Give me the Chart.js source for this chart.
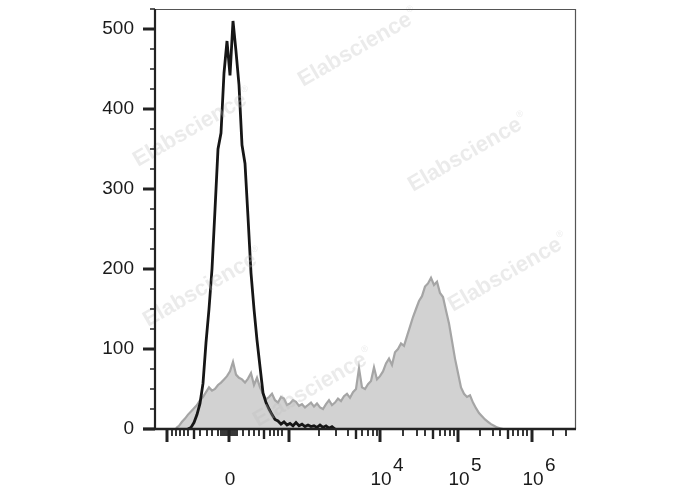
<!DOCTYPE html>
<html>
<head>
<meta charset="utf-8">
<script src="https://cdn.jsdelivr.net/npm/chart.js@4.4.1/dist/chart.umd.min.js"></script>
<style>
  html, body { margin: 0; padding: 0; background: #fff; }
  #wrap { width: 688px; height: 490px; }
</style>
</head>
<body>
<div id="wrap"><canvas id="chart" width="688" height="490"></canvas></div>
<script>
// display channels of the biexponential axis (0 = left edge of the plot)
const stainedChannels = [21,24,27,30,33,36,39,42,45,48,51,54,57,60,63,66,69,72,75,78,81,84,87,90,93,96,99,102,105,108,111,114,117,120,123,126,129,132,135,138,141,144,147,150,153,156,159,162,165,168,171,174,177,180,183,186,189,192,195,198,201,204,207,210,213,216,219,222,225,228,231,234,237,240,243,246,249,252,255,258,261,264,267,270,273,276,279,282,285,288,291,294,297,300,303,306,309,312,315,318,321,324,327,330,333,336,339,342,345,348]
const stainedCounts = [1,4,9,13,18,22,26,30,36,40,
  46,52,48,50,55,58,62,66,72,84,
  68,64,62,58,63,70,55,64,52,44,
  37,40,44,36,33,40,38,30,32,36,
  34,29,31,27,30,33,28,32,27,25,
  31,36,30,33,38,35,41,44,39,46,
  50,76,52,50,56,60,77,62,66,72,
  82,88,80,96,100,107,104,116,128,140,
  150,160,166,178,182,189,180,184,170,165,
  148,132,110,88,70,52,44,40,42,33,
  26,20,16,12,9,6,4,2,1,0]

const controlChannels = [33,36,39,42,45,48,51,54,57,60,63,66,69,72,75,78,81,84,87,90,93,96,99,102,105,108,111,114,117,120,123,126,129,132,135,138,141,144,147,150,153,156,159,162,165,168,171,174,177,180]
const controlCounts = [0,2,8,18,32,57,108,150,200,274,
  350,370,445,485,442,510,472,430,355,332,
  265,195,150,111,78,45,33,25,18,12,
  10,6,9,5,7,4,8,4,6,3,
  5,3,4,2,5,2,4,1,3,0]

// x axis ticks (channel positions)
const xMajorTicks = [12, 74, 134, 225, 303, 377]
const xMajorLabels = ['', '0', '', '10|4', '10|5', '10|6']
const xMidTicks = [39, 109, 201, 278, 353]
const xMinorTicks = [17,21,25,29,33,45,52,57,63,66,68,70,72,76,78,80,82,88,94,99,104,115,119,123,127,
  164,181,193,207,213,218,222,248,262,270,285,290,295,299,325,338,345,358,363,368,372,398,411]

const yMax = 525
const yMajorStep = 100
const yMinorStep = 25

const watermarks = [[355, 50], [465, 155], [190, 130], [200, 290], [505, 275], [310, 390]]

const toPoints = (xs, ys) => xs.map((x, i) => ({ x: x, y: ys[i] }))

const frame = {
  id: 'frame',
  afterDatasetsDraw(chart) {
    const { ctx, chartArea: a, scales: { x, y } } = chart
    ctx.save()
    // watermark
    ctx.fillStyle = 'rgba(190,190,190,0.3)'
    ctx.font = 'bold 22px "Liberation Sans", Arial, sans-serif'
    ctx.textAlign = 'center'
    ctx.textBaseline = 'middle'
    watermarks.forEach(([wx, wy]) => {
      ctx.save()
      ctx.translate(wx, wy)
      ctx.rotate(-Math.PI / 6)
      ctx.fillText('Elabscience', 0, 0)
      ctx.font = '9px "Liberation Sans", Arial, sans-serif'
      ctx.fillText('®', 68, -8)
      ctx.restore()
    })

    // top / right border
    ctx.strokeStyle = '#555'
    ctx.lineWidth = 1.2
    ctx.beginPath()
    ctx.moveTo(a.left, a.top + 0.5)
    ctx.lineTo(a.right - 0.5, a.top + 0.5)
    ctx.lineTo(a.right - 0.5, a.bottom)
    ctx.stroke()

    ctx.strokeStyle = '#222'
    // y ticks
    for (let v = 0; v <= yMax; v += yMinorStep) {
      const py = y.getPixelForValue(v)
      const major = v % yMajorStep === 0
      ctx.lineWidth = major ? 3 : 1.5
      ctx.beginPath()
      ctx.moveTo(a.left - (major ? 12 : 5), py)
      ctx.lineTo(a.left, py)
      ctx.stroke()
    }
    // x ticks
    const xTick = (list, len, w) => {
      ctx.lineWidth = w
      list.forEach(c => {
        const px = x.getPixelForValue(c)
        ctx.beginPath()
        ctx.moveTo(px, a.bottom)
        ctx.lineTo(px, a.bottom + len)
        ctx.stroke()
      })
    }
    xTick(xMinorTicks, 7, 1.8)
    xTick(xMidTicks, 10, 2.4)
    xTick(xMajorTicks, 13, 3)

    // axis lines
    ctx.lineWidth = 2.2
    ctx.beginPath()
    ctx.moveTo(a.left, a.top)
    ctx.lineTo(a.left, a.bottom)
    ctx.stroke()
    ctx.lineWidth = 2.6
    ctx.beginPath()
    ctx.moveTo(a.left - 12, a.bottom)
    ctx.lineTo(a.right, a.bottom)
    ctx.stroke()

    // x labels with superscripts
    ctx.fillStyle = '#1a1a1a'
    ctx.textBaseline = 'alphabetic'
    ctx.font = '19px "Liberation Sans", Arial, sans-serif'
    xMajorTicks.forEach((c, i) => {
      const lab = xMajorLabels[i]
      if (!lab) return
      const px = x.getPixelForValue(c)
      const [base, exp] = lab.split('|')
      ctx.textAlign = 'center'
      ctx.fillText(base, px + 1, a.bottom + 56)
      if (exp) {
        ctx.textAlign = 'left'
        ctx.fillText(exp, px + 13, a.bottom + 42)
      }
    })
    ctx.restore()
  }
}

new Chart(document.getElementById('chart'), {
  type: 'line',
  data: {
    datasets: [
      {
        label: 'Control',
        data: toPoints(controlChannels, controlCounts),
        borderColor: '#161616',
        borderWidth: 2.8,
        pointRadius: 0,
        fill: false,
        tension: 0,
        order: 0
      },
      {
        label: 'Stained',
        data: toPoints(stainedChannels, stainedCounts),
        borderColor: '#a5a5a5',
        backgroundColor: '#d2d2d2',
        borderWidth: 2.2,
        pointRadius: 0,
        fill: 'origin',
        tension: 0,
        order: 1
      }
    ]
  },
  options: {
    responsive: false,
    animation: false,
    layout: { autoPadding: false, padding: { top: 9, right: 112, left: 0, bottom: 0 } },
    plugins: { legend: { display: false }, tooltip: { enabled: false } },
    scales: {
      x: {
        type: 'linear',
        min: 0,
        max: 421,
        grid: { display: false, drawTicks: false },
        border: { display: false },
        ticks: { display: false },
        afterFit: s => { s.height = 61; s.paddingLeft = 0; s.paddingRight = 0 }
      },
      y: {
        min: 0,
        max: yMax,
        grid: { display: false, drawTicks: false },
        border: { display: false },
        afterBuildTicks: s => {
          const t = []
          for (let v = 0; v <= 500; v += yMajorStep) t.push({ value: v })
          s.ticks = t
        },
        ticks: {
          padding: 21,
          color: '#1a1a1a',
          font: { family: '"Liberation Sans", Arial, sans-serif', size: 19 }
        },
        afterFit: s => { s.width = 155; s.paddingTop = 0; s.paddingBottom = 0 }
      }
    }
  },
  plugins: [frame]
})
</script>
</body>
</html>
